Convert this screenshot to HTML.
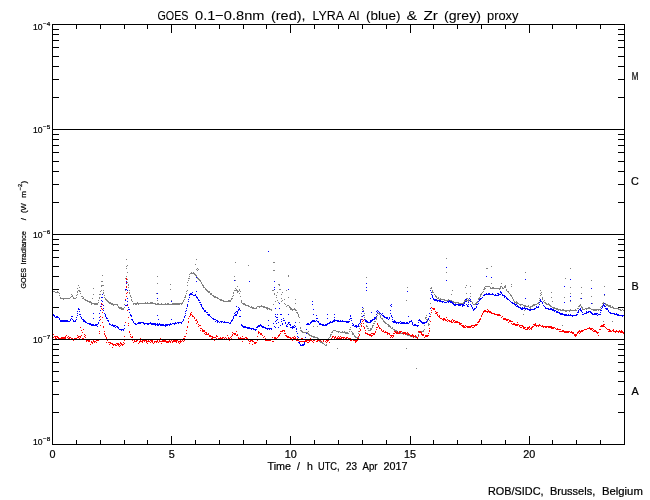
<!DOCTYPE html>
<html><head><meta charset="utf-8"><title>GOES / LYRA proxy</title>
<style>
html,body{margin:0;padding:0;background:#fff;}
body{width:650px;height:500px;overflow:hidden;}
svg{display:block;}
text{font-family:"Liberation Sans",sans-serif;fill:#000;stroke:#000;stroke-width:0.22px;}
.ti text{stroke-width:0.08px;}
</style></head><body>
<svg width="650" height="500" viewBox="0 0 650 500" style="will-change:transform">
<rect width="650" height="500" fill="#fff"/>
<g shape-rendering="crispEdges">
<path fill="#808080" d="M446 258h1v1h-1zM126 259h1v1h-1zM196 259h1v1h-1zM235 262h1v1h-1zM273 262h2v1h-2zM195 264h1v1h-1zM127 265h1v1h-1zM248 265h1v1h-1zM126 266h1v1h-1zM491 266h1v1h-1zM126 268h1v1h-1zM197 268h1v1h-1zM486 268h2v1h-2zM570 268h1v1h-1zM196 269h1v1h-1zM198 269h1v1h-1zM197 270h1v1h-1zM273 270h2v1h-2zM127 272h1v1h-1zM191 272h1v1h-1zM193 272h1v1h-1zM446 272h1v1h-1zM525 272h1v1h-1zM190 273h5v1h-5zM189 274h1v1h-1zM194 274h2v1h-2zM102 275h1v1h-1zM195 275h2v1h-2zM288 275h1v1h-1zM126 276h1v1h-1zM157 276h1v1h-1zM189 276h1v1h-1zM196 276h1v1h-1zM234 276h1v1h-1zM288 276h1v1h-1zM197 277h1v1h-1zM366 277h1v1h-1zM125 278h1v1h-1zM188 278h2v1h-2zM197 278h2v1h-2zM565 278h1v1h-1zM127 279h1v1h-1zM198 279h2v1h-2zM188 280h1v1h-1zM199 280h2v1h-2zM235 280h1v1h-1zM591 280h1v1h-1zM101 281h2v1h-2zM200 281h1v1h-1zM127 282h1v1h-1zM187 282h1v1h-1zM201 282h1v1h-1zM157 283h1v1h-1zM201 283h1v1h-1zM491 283h1v1h-1zM501 283h1v1h-1zM128 284h1v1h-1zM170 284h1v1h-1zM202 284h1v1h-1zM278 284h2v1h-2zM511 284h1v1h-1zM78 285h1v1h-1zM101 285h3v1h-3zM128 285h1v1h-1zM187 285h1v1h-1zM202 285h2v1h-2zM279 285h1v1h-1zM466 285h1v1h-1zM505 285h1v1h-1zM101 286h1v1h-1zM203 286h1v1h-1zM237 286h1v1h-1zM470 286h1v1h-1zM485 286h5v1h-5zM500 286h2v1h-2zM504 286h2v1h-2zM511 286h1v1h-1zM604 286h1v1h-1zM79 287h1v1h-1zM128 287h1v1h-1zM203 287h2v1h-2zM274 287h1v1h-1zM407 287h1v1h-1zM431 287h1v1h-1zM465 287h1v1h-1zM484 287h1v1h-1zM490 287h1v1h-1zM492 287h2v1h-2zM500 287h1v1h-1zM502 287h1v1h-1zM504 287h2v1h-2zM570 287h1v1h-1zM581 287h1v1h-1zM77 288h1v1h-1zM93 288h1v1h-1zM205 288h1v1h-1zM235 288h1v1h-1zM430 288h2v1h-2zM484 288h2v1h-2zM490 288h11v1h-11zM502 288h2v1h-2zM125 289h1v1h-1zM170 289h1v1h-1zM205 289h2v1h-2zM236 289h1v1h-1zM239 289h1v1h-1zM279 289h2v1h-2zM483 289h2v1h-2zM499 289h1v1h-1zM506 289h1v1h-1zM78 290h2v1h-2zM101 290h1v1h-1zM103 290h1v1h-1zM125 290h1v1h-1zM129 290h1v1h-1zM187 290h1v1h-1zM206 290h2v1h-2zM234 290h4v1h-4zM239 290h1v1h-1zM272 290h2v1h-2zM286 290h1v1h-1zM432 290h1v1h-1zM452 290h1v1h-1zM506 290h1v1h-1zM540 290h1v1h-1zM53 291h2v1h-2zM57 291h1v1h-1zM77 291h1v1h-1zM79 291h2v1h-2zM100 291h1v1h-1zM186 291h1v1h-1zM207 291h3v1h-3zM237 291h2v1h-2zM240 291h1v1h-1zM432 291h1v1h-1zM483 291h1v1h-1zM507 291h2v1h-2zM55 292h4v1h-4zM77 292h1v1h-1zM103 292h1v1h-1zM129 292h1v1h-1zM208 292h2v1h-2zM233 292h1v1h-1zM237 292h1v1h-1zM277 292h1v1h-1zM282 292h1v1h-1zM432 292h2v1h-2zM482 292h1v1h-1zM508 292h1v1h-1zM541 292h1v1h-1zM551 292h1v1h-1zM59 293h1v1h-1zM80 293h1v1h-1zM103 293h1v1h-1zM129 293h1v1h-1zM156 293h1v1h-1zM186 293h1v1h-1zM210 293h2v1h-2zM233 293h1v1h-1zM239 293h1v1h-1zM274 293h1v1h-1zM466 293h1v1h-1zM470 293h1v1h-1zM481 293h1v1h-1zM509 293h1v1h-1zM540 293h1v1h-1zM570 293h1v1h-1zM581 293h1v1h-1zM71 294h1v1h-1zM77 294h1v1h-1zM93 294h1v1h-1zM99 294h2v1h-2zM210 294h2v1h-2zM274 294h1v1h-1zM281 294h1v1h-1zM434 294h1v1h-1zM451 294h1v1h-1zM480 294h2v1h-2zM510 294h1v1h-1zM541 294h1v1h-1zM59 295h1v1h-1zM72 295h1v1h-1zM76 295h1v1h-1zM104 295h1v1h-1zM130 295h1v1h-1zM185 295h1v1h-1zM212 295h2v1h-2zM233 295h1v1h-1zM276 295h1v1h-1zM435 295h1v1h-1zM480 295h1v1h-1zM510 295h2v1h-2zM540 295h1v1h-1zM604 295h1v1h-1zM71 296h2v1h-2zM81 296h2v1h-2zM126 296h1v1h-1zM130 296h1v1h-1zM185 296h1v1h-1zM213 296h3v1h-3zM232 296h1v1h-1zM240 296h1v1h-1zM435 296h2v1h-2zM470 296h1v1h-1zM480 296h1v1h-1zM511 296h1v1h-1zM591 296h1v1h-1zM60 297h1v1h-1zM70 297h1v1h-1zM73 297h1v1h-1zM76 297h1v1h-1zM83 297h1v1h-1zM99 297h1v1h-1zM104 297h1v1h-1zM131 297h1v1h-1zM184 297h2v1h-2zM214 297h4v1h-4zM276 297h1v1h-1zM288 297h1v1h-1zM436 297h1v1h-1zM438 297h1v1h-1zM479 297h1v1h-1zM512 297h1v1h-1zM542 297h1v1h-1zM551 297h1v1h-1zM564 297h1v1h-1zM60 298h10v1h-10zM73 298h3v1h-3zM82 298h2v1h-2zM92 298h1v1h-1zM99 298h1v1h-1zM105 298h1v1h-1zM217 298h2v1h-2zM231 298h2v1h-2zM281 298h1v1h-1zM437 298h2v1h-2zM440 298h1v1h-1zM466 298h2v1h-2zM478 298h2v1h-2zM512 298h1v1h-1zM539 298h1v1h-1zM542 298h1v1h-1zM580 298h1v1h-1zM63 299h1v1h-1zM84 299h2v1h-2zM105 299h2v1h-2zM131 299h1v1h-1zM184 299h1v1h-1zM219 299h3v1h-3zM231 299h1v1h-1zM284 299h1v1h-1zM295 299h1v1h-1zM439 299h6v1h-6zM448 299h1v1h-1zM465 299h1v1h-1zM468 299h1v1h-1zM470 299h1v1h-1zM478 299h1v1h-1zM513 299h1v1h-1zM542 299h1v1h-1zM85 300h3v1h-3zM98 300h1v1h-1zM106 300h2v1h-2zM125 300h1v1h-1zM131 300h1v1h-1zM157 300h1v1h-1zM171 300h1v1h-1zM183 300h1v1h-1zM220 300h4v1h-4zM228 300h3v1h-3zM241 300h1v1h-1zM277 300h1v1h-1zM282 300h1v1h-1zM406 300h1v1h-1zM444 300h8v1h-8zM464 300h7v1h-7zM513 300h1v1h-1zM539 300h1v1h-1zM544 300h1v1h-1zM87 301h4v1h-4zM107 301h2v1h-2zM132 301h1v1h-1zM183 301h1v1h-1zM223 301h8v1h-8zM241 301h1v1h-1zM275 301h1v1h-1zM281 301h1v1h-1zM452 301h2v1h-2zM464 301h1v1h-1zM468 301h1v1h-1zM471 301h1v1h-1zM477 301h1v1h-1zM514 301h1v1h-1zM516 301h1v1h-1zM543 301h1v1h-1zM552 301h1v1h-1zM570 301h1v1h-1zM89 302h3v1h-3zM98 302h1v1h-1zM108 302h3v1h-3zM137 302h1v1h-1zM145 302h1v1h-1zM147 302h1v1h-1zM150 302h3v1h-3zM182 302h1v1h-1zM241 302h1v1h-1zM278 302h1v1h-1zM453 302h6v1h-6zM463 302h1v1h-1zM472 302h1v1h-1zM476 302h2v1h-2zM514 302h4v1h-4zM538 302h1v1h-1zM544 302h2v1h-2zM603 302h1v1h-1zM91 303h7v1h-7zM109 303h4v1h-4zM133 303h23v1h-23zM157 303h2v1h-2zM161 303h1v1h-1zM165 303h1v1h-1zM167 303h2v1h-2zM172 303h11v1h-11zM242 303h3v1h-3zM284 303h1v1h-1zM295 303h1v1h-1zM430 303h1v1h-1zM455 303h1v1h-1zM458 303h7v1h-7zM472 303h1v1h-1zM475 303h2v1h-2zM516 303h3v1h-3zM537 303h2v1h-2zM545 303h2v1h-2zM548 303h1v1h-1zM592 303h1v1h-1zM602 303h4v1h-4zM91 304h1v1h-1zM94 304h4v1h-4zM111 304h7v1h-7zM124 304h1v1h-1zM133 304h1v1h-1zM135 304h2v1h-2zM138 304h1v1h-1zM155 304h25v1h-25zM181 304h1v1h-1zM243 304h3v1h-3zM273 304h1v1h-1zM285 304h1v1h-1zM473 304h3v1h-3zM519 304h4v1h-4zM533 304h4v1h-4zM546 304h4v1h-4zM580 304h1v1h-1zM605 304h3v1h-3zM113 305h1v1h-1zM117 305h1v1h-1zM245 305h4v1h-4zM261 305h1v1h-1zM287 305h2v1h-2zM520 305h1v1h-1zM523 305h3v1h-3zM528 305h1v1h-1zM532 305h3v1h-3zM549 305h2v1h-2zM579 305h2v1h-2zM602 305h1v1h-1zM606 305h5v1h-5zM118 306h1v1h-1zM248 306h2v1h-2zM251 306h1v1h-1zM257 306h8v1h-8zM286 306h1v1h-1zM289 306h1v1h-1zM524 306h5v1h-5zM530 306h3v1h-3zM550 306h2v1h-2zM578 306h2v1h-2zM581 306h1v1h-1zM601 306h1v1h-1zM608 306h3v1h-3zM612 306h1v1h-1zM118 307h4v1h-4zM124 307h1v1h-1zM250 307h4v1h-4zM256 307h1v1h-1zM259 307h1v1h-1zM263 307h5v1h-5zM289 307h2v1h-2zM362 307h1v1h-1zM529 307h2v1h-2zM552 307h3v1h-3zM581 307h2v1h-2zM588 307h2v1h-2zM600 307h1v1h-1zM610 307h4v1h-4zM119 308h5v1h-5zM252 308h5v1h-5zM266 308h4v1h-4zM290 308h2v1h-2zM294 308h1v1h-1zM363 308h1v1h-1zM530 308h1v1h-1zM553 308h5v1h-5zM577 308h2v1h-2zM582 308h1v1h-1zM585 308h6v1h-6zM613 308h6v1h-6zM121 309h3v1h-3zM267 309h1v1h-1zM269 309h3v1h-3zM290 309h6v1h-6zM362 309h1v1h-1zM556 309h5v1h-5zM562 309h2v1h-2zM570 309h1v1h-1zM575 309h1v1h-1zM582 309h3v1h-3zM586 309h1v1h-1zM591 309h10v1h-10zM618 309h3v1h-3zM622 309h1v1h-1zM271 310h1v1h-1zM292 310h1v1h-1zM295 310h2v1h-2zM363 310h1v1h-1zM524 310h1v1h-1zM558 310h1v1h-1zM560 310h17v1h-17zM593 310h4v1h-4zM598 310h1v1h-1zM620 310h2v1h-2zM623 310h1v1h-1zM362 311h1v1h-1zM565 311h2v1h-2zM569 311h1v1h-1zM296 312h2v1h-2zM297 313h1v1h-1zM361 313h1v1h-1zM364 313h1v1h-1zM377 313h3v1h-3zM298 314h1v1h-1zM379 314h1v1h-1zM430 314h1v1h-1zM523 314h1v1h-1zM298 315h1v1h-1zM364 315h1v1h-1zM377 315h1v1h-1zM380 315h1v1h-1zM426 315h1v1h-1zM298 316h1v1h-1zM361 316h1v1h-1zM380 316h1v1h-1zM299 317h1v1h-1zM364 317h1v1h-1zM376 317h1v1h-1zM380 317h1v1h-1zM425 317h2v1h-2zM376 318h1v1h-1zM381 318h2v1h-2zM425 318h1v1h-1zM360 319h1v1h-1zM365 319h1v1h-1zM376 319h1v1h-1zM382 319h1v1h-1zM426 319h2v1h-2zM366 320h1v1h-1zM383 320h1v1h-1zM429 320h1v1h-1zM360 321h1v1h-1zM365 321h1v1h-1zM374 321h2v1h-2zM383 321h2v1h-2zM427 321h1v1h-1zM603 321h1v1h-1zM612 321h1v1h-1zM299 322h1v1h-1zM366 322h1v1h-1zM384 322h2v1h-2zM424 322h1v1h-1zM373 323h2v1h-2zM385 323h2v1h-2zM428 323h1v1h-1zM360 324h1v1h-1zM387 324h2v1h-2zM428 324h2v1h-2zM366 325h1v1h-1zM372 325h2v1h-2zM388 325h2v1h-2zM424 325h1v1h-1zM428 325h1v1h-1zM562 325h1v1h-1zM313 326h1v1h-1zM317 326h1v1h-1zM359 326h1v1h-1zM366 326h2v1h-2zM372 326h1v1h-1zM388 326h3v1h-3zM300 327h1v1h-1zM350 327h1v1h-1zM372 327h1v1h-1zM390 327h1v1h-1zM392 327h1v1h-1zM300 328h1v1h-1zM359 328h1v1h-1zM367 328h2v1h-2zM370 328h2v1h-2zM391 328h2v1h-2zM349 329h2v1h-2zM370 329h2v1h-2zM393 329h2v1h-2zM424 329h1v1h-1zM300 330h2v1h-2zM333 330h3v1h-3zM368 330h3v1h-3zM394 330h3v1h-3zM423 330h1v1h-1zM301 331h2v1h-2zM308 331h1v1h-1zM332 331h1v1h-1zM336 331h4v1h-4zM342 331h1v1h-1zM344 331h1v1h-1zM349 331h1v1h-1zM351 331h1v1h-1zM358 331h1v1h-1zM396 331h2v1h-2zM420 331h4v1h-4zM302 332h6v1h-6zM331 332h2v1h-2zM338 332h1v1h-1zM340 332h8v1h-8zM352 332h1v1h-1zM397 332h4v1h-4zM402 332h1v1h-1zM418 332h3v1h-3zM306 333h3v1h-3zM345 333h4v1h-4zM352 333h2v1h-2zM358 333h1v1h-1zM400 333h5v1h-5zM406 333h2v1h-2zM308 334h2v1h-2zM330 334h2v1h-2zM352 334h2v1h-2zM403 334h1v1h-1zM405 334h2v1h-2zM408 334h1v1h-1zM418 334h1v1h-1zM309 335h3v1h-3zM330 335h1v1h-1zM354 335h1v1h-1zM407 335h5v1h-5zM413 335h1v1h-1zM311 336h4v1h-4zM330 336h1v1h-1zM354 336h2v1h-2zM410 336h1v1h-1zM412 336h5v1h-5zM418 336h1v1h-1zM313 337h5v1h-5zM329 337h1v1h-1zM355 337h4v1h-4zM415 337h3v1h-3zM317 338h2v1h-2zM328 338h1v1h-1zM357 338h1v1h-1zM319 339h1v1h-1zM328 339h1v1h-1zM328 340h1v1h-1zM319 341h2v1h-2zM327 341h1v1h-1zM320 342h3v1h-3zM326 342h1v1h-1zM322 343h2v1h-2zM324 344h1v1h-1zM326 344h1v1h-1zM325 345h2v1h-2zM337 348h1v1h-1zM406 348h1v1h-1zM416 368h1v1h-1z"/>
<path fill="#0000ff" d="M268 251h1v1h-1zM446 267h1v1h-1zM486 276h1v1h-1zM196 277h1v1h-1zM491 277h1v1h-1zM525 279h1v1h-1zM570 279h1v1h-1zM234 280h1v1h-1zM446 280h1v1h-1zM126 281h1v1h-1zM196 281h1v1h-1zM249 281h1v1h-1zM274 281h1v1h-1zM52 282h1v1h-1zM126 283h1v1h-1zM366 283h1v1h-1zM126 286h1v1h-1zM564 286h1v1h-1zM274 287h1v1h-1zM366 287h1v1h-1zM591 288h1v1h-1zM125 289h2v1h-2zM274 289h1v1h-1zM288 289h1v1h-1zM127 290h1v1h-1zM366 290h1v1h-1zM430 290h1v1h-1zM196 291h1v1h-1zM407 291h1v1h-1zM500 291h1v1h-1zM192 292h1v1h-1zM431 292h1v1h-1zM500 292h2v1h-2zM157 293h1v1h-1zM190 293h2v1h-2zM486 293h1v1h-1zM488 293h2v1h-2zM492 293h1v1h-1zM497 293h2v1h-2zM501 293h1v1h-1zM102 294h1v1h-1zM189 294h4v1h-4zM195 294h1v1h-1zM431 294h1v1h-1zM484 294h10v1h-10zM495 294h1v1h-1zM498 294h3v1h-3zM502 294h1v1h-1zM604 294h1v1h-1zM189 295h1v1h-1zM193 295h3v1h-3zM432 295h1v1h-1zM483 295h2v1h-2zM494 295h5v1h-5zM502 295h3v1h-3zM196 296h1v1h-1zM432 296h1v1h-1zM504 296h2v1h-2zM570 296h1v1h-1zM101 297h2v1h-2zM189 297h1v1h-1zM196 297h2v1h-2zM432 297h1v1h-1zM482 297h1v1h-1zM504 297h1v1h-1zM506 297h1v1h-1zM52 298h1v1h-1zM127 298h1v1h-1zM157 298h1v1h-1zM197 298h1v1h-1zM430 298h1v1h-1zM433 298h1v1h-1zM469 298h1v1h-1zM480 298h2v1h-2zM506 298h2v1h-2zM525 298h1v1h-1zM581 298h1v1h-1zM188 299h1v1h-1zM198 299h1v1h-1zM433 299h4v1h-4zM465 299h2v1h-2zM470 299h1v1h-1zM479 299h2v1h-2zM507 299h2v1h-2zM540 299h1v1h-1zM101 300h1v1h-1zM125 300h1v1h-1zM198 300h2v1h-2zM434 300h7v1h-7zM449 300h1v1h-1zM469 300h1v1h-1zM479 300h1v1h-1zM509 300h1v1h-1zM540 300h1v1h-1zM570 300h1v1h-1zM102 301h1v1h-1zM127 301h1v1h-1zM171 301h1v1h-1zM188 301h1v1h-1zM312 301h1v1h-1zM437 301h1v1h-1zM439 301h5v1h-5zM447 301h5v1h-5zM465 301h2v1h-2zM470 301h1v1h-1zM478 301h1v1h-1zM510 301h1v1h-1zM540 301h2v1h-2zM199 302h2v1h-2zM442 302h1v1h-1zM444 302h3v1h-3zM448 302h1v1h-1zM450 302h3v1h-3zM464 302h1v1h-1zM468 302h1v1h-1zM511 302h2v1h-2zM539 302h1v1h-1zM542 302h1v1h-1zM564 302h1v1h-1zM279 303h1v1h-1zM452 303h2v1h-2zM464 303h1v1h-1zM478 303h1v1h-1zM512 303h3v1h-3zM542 303h1v1h-1zM591 303h1v1h-1zM604 303h1v1h-1zM101 304h1v1h-1zM127 304h1v1h-1zM187 304h1v1h-1zM200 304h2v1h-2zM312 304h1v1h-1zM391 304h1v1h-1zM453 304h11v1h-11zM466 304h1v1h-1zM468 304h1v1h-1zM470 304h1v1h-1zM476 304h2v1h-2zM514 304h3v1h-3zM539 304h1v1h-1zM603 304h1v1h-1zM103 305h1v1h-1zM125 305h2v1h-2zM187 305h1v1h-1zM201 305h1v1h-1zM390 305h1v1h-1zM454 305h2v1h-2zM458 305h3v1h-3zM462 305h3v1h-3zM467 305h1v1h-1zM471 305h1v1h-1zM515 305h1v1h-1zM517 305h1v1h-1zM543 305h1v1h-1zM603 305h2v1h-2zM100 306h1v1h-1zM187 306h1v1h-1zM201 306h1v1h-1zM236 306h1v1h-1zM391 306h1v1h-1zM462 306h1v1h-1zM467 306h2v1h-2zM471 306h1v1h-1zM476 306h1v1h-1zM516 306h3v1h-3zM536 306h1v1h-1zM538 306h1v1h-1zM544 306h1v1h-1zM602 306h1v1h-1zM604 306h2v1h-2zM128 307h1v1h-1zM202 307h1v1h-1zM238 307h1v1h-1zM362 307h1v1h-1zM472 307h1v1h-1zM476 307h1v1h-1zM518 307h3v1h-3zM522 307h1v1h-1zM524 307h1v1h-1zM536 307h3v1h-3zM545 307h1v1h-1zM602 307h1v1h-1zM78 308h1v1h-1zM103 308h1v1h-1zM186 308h1v1h-1zM202 308h2v1h-2zM239 308h1v1h-1zM275 308h1v1h-1zM279 308h1v1h-1zM430 308h1v1h-1zM472 308h1v1h-1zM474 308h2v1h-2zM520 308h8v1h-8zM534 308h2v1h-2zM545 308h4v1h-4zM550 308h2v1h-2zM580 308h1v1h-1zM601 308h1v1h-1zM605 308h3v1h-3zM78 309h2v1h-2zM128 309h2v1h-2zM203 309h1v1h-1zM238 309h2v1h-2zM313 309h1v1h-1zM473 309h2v1h-2zM521 309h2v1h-2zM525 309h1v1h-1zM527 309h8v1h-8zM548 309h6v1h-6zM579 309h2v1h-2zM606 309h2v1h-2zM100 310h1v1h-1zM103 310h1v1h-1zM186 310h1v1h-1zM204 310h2v1h-2zM238 310h1v1h-1zM240 310h1v1h-1zM377 310h1v1h-1zM390 310h1v1h-1zM473 310h1v1h-1zM529 310h2v1h-2zM552 310h4v1h-4zM578 310h1v1h-1zM580 310h2v1h-2zM600 310h2v1h-2zM608 310h1v1h-1zM77 311h1v1h-1zM79 311h1v1h-1zM185 311h1v1h-1zM204 311h2v1h-2zM236 311h2v1h-2zM362 311h2v1h-2zM376 311h1v1h-1zM378 311h1v1h-1zM554 311h1v1h-1zM556 311h2v1h-2zM578 311h1v1h-1zM581 311h1v1h-1zM586 311h1v1h-1zM588 311h3v1h-3zM608 311h1v1h-1zM129 312h1v1h-1zM206 312h2v1h-2zM235 312h1v1h-1zM237 312h1v1h-1zM371 312h1v1h-1zM377 312h1v1h-1zM379 312h1v1h-1zM556 312h4v1h-4zM577 312h2v1h-2zM582 312h1v1h-1zM586 312h3v1h-3zM590 312h2v1h-2zM600 312h1v1h-1zM609 312h2v1h-2zM77 313h1v1h-1zM93 313h1v1h-1zM99 313h1v1h-1zM104 313h1v1h-1zM185 313h1v1h-1zM234 313h1v1h-1zM237 313h1v1h-1zM380 313h1v1h-1zM382 313h1v1h-1zM390 313h1v1h-1zM429 313h1v1h-1zM559 313h4v1h-4zM584 313h3v1h-3zM591 313h2v1h-2zM594 313h4v1h-4zM610 313h5v1h-5zM616 313h1v1h-1zM53 314h1v1h-1zM79 314h2v1h-2zM105 314h1v1h-1zM130 314h1v1h-1zM207 314h3v1h-3zM235 314h2v1h-2zM275 314h1v1h-1zM277 314h1v1h-1zM280 314h2v1h-2zM288 314h1v1h-1zM313 314h1v1h-1zM327 314h1v1h-1zM334 314h1v1h-1zM376 314h1v1h-1zM381 314h1v1h-1zM560 314h7v1h-7zM568 314h1v1h-1zM570 314h1v1h-1zM576 314h2v1h-2zM582 314h2v1h-2zM592 314h5v1h-5zM598 314h3v1h-3zM614 314h5v1h-5zM53 315h2v1h-2zM77 315h1v1h-1zM105 315h1v1h-1zM130 315h2v1h-2zM157 315h1v1h-1zM185 315h1v1h-1zM208 315h2v1h-2zM234 315h3v1h-3zM316 315h1v1h-1zM350 315h1v1h-1zM363 315h1v1h-1zM382 315h2v1h-2zM391 315h1v1h-1zM564 315h13v1h-13zM597 315h1v1h-1zM617 315h7v1h-7zM54 316h1v1h-1zM56 316h2v1h-2zM71 316h2v1h-2zM80 316h1v1h-1zM105 316h1v1h-1zM131 316h1v1h-1zM184 316h1v1h-1zM210 316h1v1h-1zM233 316h1v1h-1zM239 316h2v1h-2zM275 316h1v1h-1zM350 316h1v1h-1zM362 316h1v1h-1zM376 316h1v1h-1zM383 316h2v1h-2zM391 316h1v1h-1zM408 316h1v1h-1zM429 316h1v1h-1zM572 316h1v1h-1zM622 316h1v1h-1zM55 317h4v1h-4zM76 317h1v1h-1zM81 317h1v1h-1zM99 317h1v1h-1zM106 317h1v1h-1zM184 317h1v1h-1zM211 317h1v1h-1zM233 317h1v1h-1zM276 317h2v1h-2zM334 317h1v1h-1zM374 317h2v1h-2zM384 317h4v1h-4zM389 317h1v1h-1zM392 317h1v1h-1zM59 318h1v1h-1zM71 318h1v1h-1zM81 318h1v1h-1zM93 318h1v1h-1zM106 318h2v1h-2zM212 318h2v1h-2zM233 318h1v1h-1zM283 318h1v1h-1zM316 318h2v1h-2zM327 318h1v1h-1zM350 318h2v1h-2zM374 318h2v1h-2zM386 318h2v1h-2zM389 318h1v1h-1zM428 318h1v1h-1zM59 319h1v1h-1zM70 319h1v1h-1zM72 319h1v1h-1zM76 319h1v1h-1zM82 319h2v1h-2zM131 319h2v1h-2zM158 319h1v1h-1zM171 319h1v1h-1zM183 319h1v1h-1zM213 319h3v1h-3zM232 319h1v1h-1zM277 319h1v1h-1zM281 319h1v1h-1zM334 319h1v1h-1zM349 319h1v1h-1zM361 319h1v1h-1zM364 319h1v1h-1zM372 319h3v1h-3zM388 319h1v1h-1zM392 319h1v1h-1zM419 319h1v1h-1zM428 319h1v1h-1zM60 320h8v1h-8zM70 320h1v1h-1zM73 320h1v1h-1zM75 320h1v1h-1zM83 320h2v1h-2zM99 320h1v1h-1zM107 320h2v1h-2zM132 320h1v1h-1zM183 320h1v1h-1zM216 320h2v1h-2zM231 320h2v1h-2zM268 320h1v1h-1zM276 320h1v1h-1zM283 320h2v1h-2zM312 320h3v1h-3zM316 320h1v1h-1zM333 320h6v1h-6zM340 320h1v1h-1zM342 320h1v1h-1zM351 320h1v1h-1zM360 320h1v1h-1zM365 320h2v1h-2zM370 320h3v1h-3zM394 320h1v1h-1zM411 320h1v1h-1zM418 320h3v1h-3zM427 320h1v1h-1zM60 321h10v1h-10zM73 321h3v1h-3zM83 321h3v1h-3zM108 321h1v1h-1zM133 321h1v1h-1zM182 321h1v1h-1zM215 321h1v1h-1zM217 321h2v1h-2zM220 321h3v1h-3zM224 321h1v1h-1zM231 321h1v1h-1zM275 321h1v1h-1zM281 321h1v1h-1zM311 321h5v1h-5zM317 321h2v1h-2zM330 321h1v1h-1zM332 321h3v1h-3zM337 321h13v1h-13zM360 321h1v1h-1zM365 321h3v1h-3zM370 321h2v1h-2zM392 321h4v1h-4zM400 321h1v1h-1zM409 321h3v1h-3zM420 321h2v1h-2zM426 321h1v1h-1zM85 322h2v1h-2zM98 322h1v1h-1zM125 322h1v1h-1zM133 322h1v1h-1zM138 322h6v1h-6zM150 322h1v1h-1zM175 322h1v1h-1zM177 322h5v1h-5zM217 322h1v1h-1zM219 322h1v1h-1zM221 322h1v1h-1zM223 322h6v1h-6zM230 322h1v1h-1zM278 322h1v1h-1zM285 322h1v1h-1zM288 322h2v1h-2zM295 322h1v1h-1zM310 322h2v1h-2zM318 322h1v1h-1zM329 322h4v1h-4zM346 322h3v1h-3zM360 322h1v1h-1zM367 322h4v1h-4zM393 322h7v1h-7zM401 322h4v1h-4zM406 322h2v1h-2zM409 322h1v1h-1zM412 322h1v1h-1zM418 322h1v1h-1zM421 322h6v1h-6zM87 323h4v1h-4zM98 323h1v1h-1zM109 323h1v1h-1zM134 323h2v1h-2zM137 323h4v1h-4zM143 323h13v1h-13zM157 323h1v1h-1zM159 323h1v1h-1zM170 323h1v1h-1zM172 323h5v1h-5zM178 323h1v1h-1zM181 323h1v1h-1zM229 323h2v1h-2zM273 323h1v1h-1zM276 323h1v1h-1zM282 323h1v1h-1zM285 323h1v1h-1zM288 323h1v1h-1zM307 323h2v1h-2zM310 323h1v1h-1zM319 323h2v1h-2zM327 323h3v1h-3zM352 323h1v1h-1zM359 323h1v1h-1zM396 323h1v1h-1zM398 323h1v1h-1zM400 323h9v1h-9zM412 323h1v1h-1zM422 323h3v1h-3zM89 324h5v1h-5zM95 324h3v1h-3zM109 324h2v1h-2zM112 324h1v1h-1zM135 324h2v1h-2zM144 324h1v1h-1zM147 324h2v1h-2zM151 324h13v1h-13zM165 324h7v1h-7zM174 324h1v1h-1zM241 324h1v1h-1zM260 324h1v1h-1zM282 324h1v1h-1zM287 324h1v1h-1zM289 324h2v1h-2zM306 324h4v1h-4zM319 324h5v1h-5zM325 324h3v1h-3zM353 324h1v1h-1zM358 324h1v1h-1zM412 324h1v1h-1zM414 324h2v1h-2zM91 325h6v1h-6zM111 325h5v1h-5zM124 325h1v1h-1zM155 325h1v1h-1zM157 325h2v1h-2zM160 325h8v1h-8zM169 325h1v1h-1zM241 325h2v1h-2zM258 325h4v1h-4zM268 325h1v1h-1zM280 325h1v1h-1zM286 325h1v1h-1zM290 325h1v1h-1zM294 325h1v1h-1zM322 325h5v1h-5zM352 325h2v1h-2zM355 325h2v1h-2zM358 325h1v1h-1zM413 325h6v1h-6zM97 326h1v1h-1zM113 326h2v1h-2zM116 326h2v1h-2zM165 326h1v1h-1zM242 326h4v1h-4zM257 326h3v1h-3zM261 326h3v1h-3zM274 326h1v1h-1zM286 326h2v1h-2zM292 326h2v1h-2zM295 326h1v1h-1zM354 326h5v1h-5zM417 326h1v1h-1zM115 327h1v1h-1zM117 327h2v1h-2zM243 327h7v1h-7zM256 327h2v1h-2zM262 327h4v1h-4zM275 327h1v1h-1zM278 327h1v1h-1zM290 327h5v1h-5zM356 327h1v1h-1zM118 328h1v1h-1zM124 328h1v1h-1zM247 328h7v1h-7zM265 328h7v1h-7zM292 328h1v1h-1zM296 328h1v1h-1zM119 329h5v1h-5zM251 329h1v1h-1zM253 329h4v1h-4zM267 329h1v1h-1zM269 329h1v1h-1zM271 329h1v1h-1zM296 329h1v1h-1zM306 329h1v1h-1zM121 330h1v1h-1zM123 330h1v1h-1zM255 330h1v1h-1zM296 331h1v1h-1zM297 333h1v1h-1zM306 333h1v1h-1zM297 336h1v1h-1zM298 337h1v1h-1zM305 337h1v1h-1zM298 340h1v1h-1zM305 340h1v1h-1zM298 342h2v1h-2zM304 342h1v1h-1zM299 343h1v1h-1zM304 343h1v1h-1zM300 344h1v1h-1zM302 344h3v1h-3zM300 345h4v1h-4z"/>
<path fill="#ff0000" d="M126 278h1v1h-1zM126 279h1v1h-1zM126 282h1v1h-1zM126 286h1v1h-1zM126 287h1v1h-1zM127 292h1v1h-1zM126 293h1v1h-1zM126 296h1v1h-1zM125 299h1v1h-1zM101 303h1v1h-1zM102 304h1v1h-1zM127 305h1v1h-1zM101 306h1v1h-1zM431 307h1v1h-1zM101 308h1v1h-1zM432 308h3v1h-3zM102 309h1v1h-1zM433 309h2v1h-2zM487 309h1v1h-1zM127 310h1v1h-1zM431 310h1v1h-1zM484 310h2v1h-2zM488 310h1v1h-1zM435 311h1v1h-1zM483 311h8v1h-8zM102 312h1v1h-1zM191 312h1v1h-1zM431 312h1v1h-1zM436 312h2v1h-2zM483 312h1v1h-1zM487 312h1v1h-1zM489 312h3v1h-3zM190 313h1v1h-1zM435 313h2v1h-2zM482 313h1v1h-1zM491 313h4v1h-4zM190 314h2v1h-2zM437 314h1v1h-1zM482 314h1v1h-1zM494 314h6v1h-6zM190 315h1v1h-1zM192 315h1v1h-1zM437 315h1v1h-1zM439 315h1v1h-1zM481 315h1v1h-1zM497 315h4v1h-4zM100 316h1v1h-1zM189 316h1v1h-1zM192 316h2v1h-2zM430 316h1v1h-1zM438 316h2v1h-2zM481 316h1v1h-1zM502 316h1v1h-1zM102 317h1v1h-1zM128 317h1v1h-1zM194 317h1v1h-1zM439 317h1v1h-1zM446 317h1v1h-1zM501 317h1v1h-1zM188 318h1v1h-1zM194 318h1v1h-1zM440 318h2v1h-2zM443 318h2v1h-2zM480 318h1v1h-1zM503 318h3v1h-3zM100 319h1v1h-1zM196 319h1v1h-1zM362 319h1v1h-1zM442 319h4v1h-4zM447 319h1v1h-1zM452 319h1v1h-1zM479 319h2v1h-2zM503 319h6v1h-6zM195 320h2v1h-2zM363 320h1v1h-1zM443 320h1v1h-1zM445 320h2v1h-2zM448 320h2v1h-2zM451 320h1v1h-1zM453 320h2v1h-2zM479 320h1v1h-1zM506 320h2v1h-2zM509 320h2v1h-2zM188 321h1v1h-1zM197 321h1v1h-1zM362 321h1v1h-1zM430 321h1v1h-1zM447 321h1v1h-1zM449 321h3v1h-3zM453 321h1v1h-1zM455 321h3v1h-3zM478 321h2v1h-2zM509 321h4v1h-4zM102 322h1v1h-1zM125 322h1v1h-1zM188 322h1v1h-1zM197 322h1v1h-1zM451 322h2v1h-2zM454 322h6v1h-6zM477 322h2v1h-2zM508 322h1v1h-1zM517 322h1v1h-1zM128 323h1v1h-1zM196 323h1v1h-1zM361 323h1v1h-1zM363 323h1v1h-1zM377 323h1v1h-1zM459 323h3v1h-3zM511 323h1v1h-1zM513 323h2v1h-2zM535 323h1v1h-1zM198 324h1v1h-1zM377 324h1v1h-1zM459 324h2v1h-2zM475 324h3v1h-3zM512 324h7v1h-7zM533 324h3v1h-3zM539 324h1v1h-1zM603 324h2v1h-2zM100 325h1v1h-1zM128 325h1v1h-1zM199 325h2v1h-2zM361 325h1v1h-1zM378 325h1v1h-1zM461 325h3v1h-3zM465 325h1v1h-1zM471 325h6v1h-6zM515 325h3v1h-3zM519 325h4v1h-4zM534 325h7v1h-7zM542 325h1v1h-1zM601 325h3v1h-3zM103 326h1v1h-1zM187 326h1v1h-1zM198 326h1v1h-1zM361 326h1v1h-1zM363 326h1v1h-1zM378 326h1v1h-1zM462 326h3v1h-3zM466 326h6v1h-6zM474 326h1v1h-1zM519 326h1v1h-1zM522 326h2v1h-2zM529 326h1v1h-1zM532 326h2v1h-2zM536 326h1v1h-1zM538 326h1v1h-1zM541 326h11v1h-11zM600 326h5v1h-5zM80 327h1v1h-1zM103 327h1v1h-1zM187 327h1v1h-1zM364 327h1v1h-1zM376 327h2v1h-2zM379 327h1v1h-1zM463 327h3v1h-3zM467 327h4v1h-4zM472 327h2v1h-2zM520 327h2v1h-2zM523 327h3v1h-3zM527 327h3v1h-3zM531 327h2v1h-2zM543 327h1v1h-1zM545 327h2v1h-2zM548 327h7v1h-7zM589 327h1v1h-1zM605 327h1v1h-1zM200 328h2v1h-2zM364 328h1v1h-1zM379 328h2v1h-2zM429 328h1v1h-1zM523 328h2v1h-2zM527 328h2v1h-2zM530 328h2v1h-2zM551 328h3v1h-3zM555 328h1v1h-1zM557 328h1v1h-1zM587 328h6v1h-6zM606 328h1v1h-1zM83 329h1v1h-1zM202 329h1v1h-1zM360 329h1v1h-1zM376 329h1v1h-1zM381 329h1v1h-1zM525 329h3v1h-3zM529 329h1v1h-1zM531 329h1v1h-1zM556 329h5v1h-5zM584 329h3v1h-3zM590 329h2v1h-2zM593 329h1v1h-1zM599 329h2v1h-2zM607 329h3v1h-3zM613 329h1v1h-1zM81 330h1v1h-1zM186 330h1v1h-1zM200 330h1v1h-1zM202 330h3v1h-3zM282 330h3v1h-3zM360 330h1v1h-1zM365 330h1v1h-1zM381 330h1v1h-1zM383 330h1v1h-1zM429 330h1v1h-1zM562 330h2v1h-2zM579 330h1v1h-1zM581 330h3v1h-3zM592 330h1v1h-1zM594 330h2v1h-2zM609 330h2v1h-2zM612 330h2v1h-2zM616 330h1v1h-1zM619 330h1v1h-1zM621 330h1v1h-1zM99 331h1v1h-1zM104 331h1v1h-1zM129 331h1v1h-1zM202 331h3v1h-3zM236 331h1v1h-1zM258 331h1v1h-1zM280 331h3v1h-3zM284 331h1v1h-1zM359 331h1v1h-1zM375 331h1v1h-1zM382 331h2v1h-2zM385 331h1v1h-1zM394 331h2v1h-2zM397 331h1v1h-1zM399 331h3v1h-3zM418 331h3v1h-3zM429 331h1v1h-1zM559 331h11v1h-11zM571 331h1v1h-1zM578 331h5v1h-5zM593 331h4v1h-4zM608 331h4v1h-4zM613 331h10v1h-10zM82 332h1v1h-1zM129 332h1v1h-1zM205 332h2v1h-2zM232 332h1v1h-1zM258 332h2v1h-2zM365 332h1v1h-1zM375 332h1v1h-1zM384 332h4v1h-4zM395 332h3v1h-3zM399 332h2v1h-2zM403 332h3v1h-3zM407 332h1v1h-1zM419 332h3v1h-3zM564 332h5v1h-5zM570 332h4v1h-4zM577 332h2v1h-2zM580 332h1v1h-1zM596 332h3v1h-3zM615 332h1v1h-1zM618 332h1v1h-1zM620 332h4v1h-4zM99 333h1v1h-1zM104 333h1v1h-1zM186 333h1v1h-1zM204 333h1v1h-1zM206 333h1v1h-1zM208 333h1v1h-1zM233 333h3v1h-3zM258 333h1v1h-1zM260 333h2v1h-2zM280 333h1v1h-1zM284 333h2v1h-2zM365 333h3v1h-3zM371 333h4v1h-4zM387 333h3v1h-3zM393 333h2v1h-2zM396 333h4v1h-4zM402 333h5v1h-5zM408 333h1v1h-1zM421 333h1v1h-1zM428 333h1v1h-1zM572 333h2v1h-2zM577 333h1v1h-1zM579 333h1v1h-1zM597 333h1v1h-1zM623 333h1v1h-1zM53 334h1v1h-1zM84 334h1v1h-1zM104 334h1v1h-1zM130 334h1v1h-1zM205 334h4v1h-4zM232 334h1v1h-1zM234 334h2v1h-2zM237 334h1v1h-1zM260 334h2v1h-2zM279 334h1v1h-1zM359 334h1v1h-1zM367 334h4v1h-4zM373 334h2v1h-2zM387 334h1v1h-1zM389 334h1v1h-1zM405 334h1v1h-1zM407 334h3v1h-3zM412 334h1v1h-1zM421 334h3v1h-3zM574 334h3v1h-3zM66 335h1v1h-1zM77 335h1v1h-1zM81 335h1v1h-1zM85 335h1v1h-1zM105 335h1v1h-1zM209 335h2v1h-2zM216 335h1v1h-1zM227 335h1v1h-1zM232 335h1v1h-1zM236 335h2v1h-2zM262 335h1v1h-1zM278 335h2v1h-2zM285 335h2v1h-2zM359 335h1v1h-1zM369 335h4v1h-4zM390 335h4v1h-4zM410 335h4v1h-4zM415 335h1v1h-1zM418 335h1v1h-1zM422 335h2v1h-2zM425 335h4v1h-4zM574 335h3v1h-3zM598 335h1v1h-1zM54 336h4v1h-4zM65 336h1v1h-1zM68 336h1v1h-1zM78 336h3v1h-3zM84 336h1v1h-1zM105 336h1v1h-1zM124 336h1v1h-1zM130 336h1v1h-1zM132 336h1v1h-1zM184 336h2v1h-2zM209 336h4v1h-4zM216 336h2v1h-2zM231 336h1v1h-1zM242 336h1v1h-1zM257 336h1v1h-1zM264 336h1v1h-1zM278 336h1v1h-1zM286 336h3v1h-3zM294 336h1v1h-1zM332 336h2v1h-2zM335 336h1v1h-1zM338 336h1v1h-1zM340 336h1v1h-1zM358 336h1v1h-1zM371 336h1v1h-1zM391 336h1v1h-1zM393 336h1v1h-1zM411 336h1v1h-1zM413 336h3v1h-3zM425 336h3v1h-3zM575 336h1v1h-1zM53 337h1v1h-1zM55 337h1v1h-1zM57 337h2v1h-2zM61 337h5v1h-5zM67 337h1v1h-1zM69 337h2v1h-2zM77 337h2v1h-2zM80 337h1v1h-1zM85 337h1v1h-1zM106 337h1v1h-1zM131 337h2v1h-2zM212 337h4v1h-4zM220 337h1v1h-1zM222 337h2v1h-2zM225 337h1v1h-1zM228 337h1v1h-1zM230 337h1v1h-1zM238 337h1v1h-1zM240 337h1v1h-1zM245 337h2v1h-2zM263 337h1v1h-1zM272 337h1v1h-1zM274 337h2v1h-2zM277 337h1v1h-1zM287 337h4v1h-4zM292 337h2v1h-2zM295 337h1v1h-1zM332 337h1v1h-1zM334 337h2v1h-2zM337 337h1v1h-1zM339 337h1v1h-1zM341 337h4v1h-4zM346 337h2v1h-2zM390 337h1v1h-1zM392 337h1v1h-1zM413 337h1v1h-1zM416 337h2v1h-2zM424 337h1v1h-1zM55 338h2v1h-2zM58 338h8v1h-8zM68 338h2v1h-2zM71 338h2v1h-2zM74 338h3v1h-3zM79 338h1v1h-1zM82 338h2v1h-2zM106 338h1v1h-1zM140 338h1v1h-1zM160 338h1v1h-1zM183 338h2v1h-2zM211 338h2v1h-2zM216 338h1v1h-1zM218 338h5v1h-5zM224 338h1v1h-1zM226 338h1v1h-1zM228 338h2v1h-2zM231 338h1v1h-1zM238 338h7v1h-7zM246 338h2v1h-2zM265 338h1v1h-1zM274 338h3v1h-3zM290 338h2v1h-2zM293 338h3v1h-3zM297 338h1v1h-1zM301 338h2v1h-2zM310 338h1v1h-1zM331 338h1v1h-1zM334 338h1v1h-1zM336 338h6v1h-6zM343 338h1v1h-1zM345 338h2v1h-2zM348 338h3v1h-3zM357 338h2v1h-2zM417 338h1v1h-1zM66 339h2v1h-2zM70 339h7v1h-7zM84 339h3v1h-3zM90 339h1v1h-1zM94 339h2v1h-2zM97 339h2v1h-2zM107 339h1v1h-1zM133 339h1v1h-1zM135 339h1v1h-1zM138 339h1v1h-1zM141 339h1v1h-1zM144 339h1v1h-1zM148 339h1v1h-1zM153 339h2v1h-2zM156 339h1v1h-1zM162 339h1v1h-1zM171 339h1v1h-1zM182 339h1v1h-1zM215 339h1v1h-1zM217 339h2v1h-2zM221 339h1v1h-1zM224 339h2v1h-2zM227 339h2v1h-2zM230 339h1v1h-1zM243 339h5v1h-5zM251 339h1v1h-1zM263 339h2v1h-2zM267 339h1v1h-1zM269 339h6v1h-6zM276 339h1v1h-1zM289 339h1v1h-1zM294 339h1v1h-1zM296 339h1v1h-1zM298 339h3v1h-3zM302 339h4v1h-4zM311 339h1v1h-1zM313 339h1v1h-1zM315 339h1v1h-1zM317 339h1v1h-1zM319 339h4v1h-4zM324 339h2v1h-2zM329 339h3v1h-3zM345 339h1v1h-1zM347 339h1v1h-1zM349 339h1v1h-1zM351 339h3v1h-3zM357 339h1v1h-1zM73 340h1v1h-1zM86 340h4v1h-4zM93 340h1v1h-1zM96 340h3v1h-3zM107 340h1v1h-1zM124 340h1v1h-1zM132 340h1v1h-1zM134 340h1v1h-1zM136 340h2v1h-2zM140 340h1v1h-1zM142 340h5v1h-5zM148 340h1v1h-1zM150 340h3v1h-3zM157 340h1v1h-1zM159 340h1v1h-1zM162 340h4v1h-4zM169 340h1v1h-1zM171 340h1v1h-1zM173 340h5v1h-5zM180 340h1v1h-1zM182 340h1v1h-1zM184 340h1v1h-1zM214 340h1v1h-1zM229 340h1v1h-1zM248 340h1v1h-1zM250 340h3v1h-3zM257 340h1v1h-1zM265 340h6v1h-6zM292 340h1v1h-1zM296 340h3v1h-3zM305 340h7v1h-7zM313 340h2v1h-2zM317 340h4v1h-4zM323 340h1v1h-1zM326 340h3v1h-3zM350 340h2v1h-2zM353 340h5v1h-5zM86 341h1v1h-1zM88 341h2v1h-2zM91 341h1v1h-1zM93 341h3v1h-3zM134 341h3v1h-3zM139 341h4v1h-4zM144 341h1v1h-1zM146 341h4v1h-4zM151 341h2v1h-2zM154 341h4v1h-4zM159 341h12v1h-12zM172 341h5v1h-5zM178 341h4v1h-4zM183 341h1v1h-1zM242 341h1v1h-1zM249 341h2v1h-2zM252 341h2v1h-2zM272 341h2v1h-2zM299 341h8v1h-8zM309 341h1v1h-1zM312 341h1v1h-1zM316 341h2v1h-2zM321 341h1v1h-1zM323 341h1v1h-1zM325 341h1v1h-1zM327 341h1v1h-1zM355 341h2v1h-2zM91 342h2v1h-2zM94 342h1v1h-1zM96 342h1v1h-1zM106 342h1v1h-1zM108 342h3v1h-3zM120 342h1v1h-1zM123 342h1v1h-1zM133 342h1v1h-1zM139 342h1v1h-1zM142 342h1v1h-1zM146 342h1v1h-1zM150 342h1v1h-1zM152 342h1v1h-1zM154 342h1v1h-1zM156 342h1v1h-1zM158 342h1v1h-1zM166 342h3v1h-3zM170 342h1v1h-1zM172 342h1v1h-1zM176 342h1v1h-1zM178 342h1v1h-1zM180 342h1v1h-1zM254 342h3v1h-3zM307 342h2v1h-2zM313 342h1v1h-1zM326 342h1v1h-1zM329 342h1v1h-1zM355 342h1v1h-1zM92 343h1v1h-1zM110 343h3v1h-3zM116 343h3v1h-3zM120 343h2v1h-2zM124 343h1v1h-1zM138 343h1v1h-1zM147 343h1v1h-1zM153 343h1v1h-1zM161 343h1v1h-1zM179 343h1v1h-1zM249 343h1v1h-1zM254 343h2v1h-2zM90 344h1v1h-1zM109 344h1v1h-1zM112 344h4v1h-4zM117 344h3v1h-3zM121 344h3v1h-3zM252 344h1v1h-1zM113 345h1v1h-1zM115 345h2v1h-2zM118 345h1v1h-1zM120 345h1v1h-1zM122 345h1v1h-1zM119 346h1v1h-1zM112 347h1v1h-1z"/>
</g>
<g shape-rendering="crispEdges" fill="#000">
<rect x="52" y="24" width="573" height="1"/><rect x="52" y="444" width="573" height="1"/><rect x="52" y="24" width="1" height="421"/><rect x="624" y="24" width="1" height="421"/><rect x="52" y="129" width="573" height="1"/><rect x="52" y="234" width="573" height="1"/><rect x="52" y="339" width="573" height="1"/>
<rect x="52" y="24" width="1" height="9"/><rect x="52" y="436" width="1" height="9"/><rect x="76" y="24" width="1" height="5"/><rect x="76" y="440" width="1" height="5"/><rect x="100" y="24" width="1" height="5"/><rect x="100" y="440" width="1" height="5"/><rect x="124" y="24" width="1" height="5"/><rect x="124" y="440" width="1" height="5"/><rect x="147" y="24" width="1" height="5"/><rect x="147" y="440" width="1" height="5"/><rect x="171" y="24" width="1" height="9"/><rect x="171" y="436" width="1" height="9"/><rect x="195" y="24" width="1" height="5"/><rect x="195" y="440" width="1" height="5"/><rect x="219" y="24" width="1" height="5"/><rect x="219" y="440" width="1" height="5"/><rect x="243" y="24" width="1" height="5"/><rect x="243" y="440" width="1" height="5"/><rect x="266" y="24" width="1" height="5"/><rect x="266" y="440" width="1" height="5"/><rect x="290" y="24" width="1" height="9"/><rect x="290" y="436" width="1" height="9"/><rect x="314" y="24" width="1" height="5"/><rect x="314" y="440" width="1" height="5"/><rect x="338" y="24" width="1" height="5"/><rect x="338" y="440" width="1" height="5"/><rect x="362" y="24" width="1" height="5"/><rect x="362" y="440" width="1" height="5"/><rect x="386" y="24" width="1" height="5"/><rect x="386" y="440" width="1" height="5"/><rect x="410" y="24" width="1" height="9"/><rect x="410" y="436" width="1" height="9"/><rect x="433" y="24" width="1" height="5"/><rect x="433" y="440" width="1" height="5"/><rect x="457" y="24" width="1" height="5"/><rect x="457" y="440" width="1" height="5"/><rect x="481" y="24" width="1" height="5"/><rect x="481" y="440" width="1" height="5"/><rect x="505" y="24" width="1" height="5"/><rect x="505" y="440" width="1" height="5"/><rect x="529" y="24" width="1" height="9"/><rect x="529" y="436" width="1" height="9"/><rect x="552" y="24" width="1" height="5"/><rect x="552" y="440" width="1" height="5"/><rect x="576" y="24" width="1" height="5"/><rect x="576" y="440" width="1" height="5"/><rect x="600" y="24" width="1" height="5"/><rect x="600" y="440" width="1" height="5"/><rect x="624" y="24" width="1" height="5"/><rect x="624" y="440" width="1" height="5"/>
<rect x="52" y="97" width="7" height="1"/><rect x="618" y="97" width="7" height="1"/><rect x="52" y="79" width="7" height="1"/><rect x="618" y="79" width="7" height="1"/><rect x="52" y="66" width="7" height="1"/><rect x="618" y="66" width="7" height="1"/><rect x="52" y="56" width="7" height="1"/><rect x="618" y="56" width="7" height="1"/><rect x="52" y="47" width="7" height="1"/><rect x="618" y="47" width="7" height="1"/><rect x="52" y="40" width="7" height="1"/><rect x="618" y="40" width="7" height="1"/><rect x="52" y="34" width="7" height="1"/><rect x="618" y="34" width="7" height="1"/><rect x="52" y="29" width="7" height="1"/><rect x="618" y="29" width="7" height="1"/><rect x="52" y="202" width="7" height="1"/><rect x="618" y="202" width="7" height="1"/><rect x="52" y="184" width="7" height="1"/><rect x="618" y="184" width="7" height="1"/><rect x="52" y="171" width="7" height="1"/><rect x="618" y="171" width="7" height="1"/><rect x="52" y="161" width="7" height="1"/><rect x="618" y="161" width="7" height="1"/><rect x="52" y="152" width="7" height="1"/><rect x="618" y="152" width="7" height="1"/><rect x="52" y="145" width="7" height="1"/><rect x="618" y="145" width="7" height="1"/><rect x="52" y="139" width="7" height="1"/><rect x="618" y="139" width="7" height="1"/><rect x="52" y="134" width="7" height="1"/><rect x="618" y="134" width="7" height="1"/><rect x="52" y="307" width="7" height="1"/><rect x="618" y="307" width="7" height="1"/><rect x="52" y="289" width="7" height="1"/><rect x="618" y="289" width="7" height="1"/><rect x="52" y="276" width="7" height="1"/><rect x="618" y="276" width="7" height="1"/><rect x="52" y="266" width="7" height="1"/><rect x="618" y="266" width="7" height="1"/><rect x="52" y="257" width="7" height="1"/><rect x="618" y="257" width="7" height="1"/><rect x="52" y="250" width="7" height="1"/><rect x="618" y="250" width="7" height="1"/><rect x="52" y="244" width="7" height="1"/><rect x="618" y="244" width="7" height="1"/><rect x="52" y="239" width="7" height="1"/><rect x="618" y="239" width="7" height="1"/><rect x="52" y="412" width="7" height="1"/><rect x="618" y="412" width="7" height="1"/><rect x="52" y="394" width="7" height="1"/><rect x="618" y="394" width="7" height="1"/><rect x="52" y="381" width="7" height="1"/><rect x="618" y="381" width="7" height="1"/><rect x="52" y="371" width="7" height="1"/><rect x="618" y="371" width="7" height="1"/><rect x="52" y="362" width="7" height="1"/><rect x="618" y="362" width="7" height="1"/><rect x="52" y="355" width="7" height="1"/><rect x="618" y="355" width="7" height="1"/><rect x="52" y="349" width="7" height="1"/><rect x="618" y="349" width="7" height="1"/><rect x="52" y="344" width="7" height="1"/><rect x="618" y="344" width="7" height="1"/>
</g>
<g>
<g class="ti">
<text x="157.5" y="20.0" font-size="13.6px" textLength="31.0" lengthAdjust="spacingAndGlyphs">GOES</text>
<text x="195.0" y="20.0" font-size="13.6px" textLength="69.5" lengthAdjust="spacingAndGlyphs">0.1−0.8nm</text>
<text x="271.0" y="20.0" font-size="13.6px" textLength="34.5" lengthAdjust="spacingAndGlyphs">(red),</text>
<text x="312.5" y="20.0" font-size="13.6px" textLength="31.5" lengthAdjust="spacingAndGlyphs">LYRA</text>
<text x="348.0" y="20.0" font-size="13.6px" textLength="11.5" lengthAdjust="spacingAndGlyphs">Al</text>
<text x="366.0" y="20.0" font-size="13.6px" textLength="34.5" lengthAdjust="spacingAndGlyphs">(blue)</text>
<text x="406.5" y="20.0" font-size="13.6px" textLength="10.5" lengthAdjust="spacingAndGlyphs">&amp;</text>
<text x="423.5" y="20.0" font-size="13.6px" textLength="14.5" lengthAdjust="spacingAndGlyphs">Zr</text>
<text x="444.0" y="20.0" font-size="13.6px" textLength="37.0" lengthAdjust="spacingAndGlyphs">(grey)</text>
<text x="487.0" y="20.0" font-size="13.6px" textLength="31.5" lengthAdjust="spacingAndGlyphs">proxy</text>
</g>
<text x="52.5" y="458.2" font-size="10.8px" text-anchor="middle">0</text>
<text x="171.7" y="458.2" font-size="10.8px" text-anchor="middle">5</text>
<text x="290.8" y="458.2" font-size="10.8px" text-anchor="middle">10</text>
<text x="410.0" y="458.2" font-size="10.8px" text-anchor="middle">15</text>
<text x="529.2" y="458.2" font-size="10.8px" text-anchor="middle">20</text>
<text x="267.5" y="470.4" font-size="10.5px" textLength="23.5" lengthAdjust="spacingAndGlyphs">Time</text>
<text x="298.5" y="470.4" font-size="10.5px" text-anchor="middle">/</text>
<text x="309.8" y="470.4" font-size="10.5px" text-anchor="middle">h</text>
<text x="318.0" y="470.4" font-size="10.5px" textLength="21.5" lengthAdjust="spacingAndGlyphs">UTC,</text>
<text x="346.0" y="470.4" font-size="10.5px" textLength="11.0" lengthAdjust="spacingAndGlyphs">23</text>
<text x="362.5" y="470.4" font-size="10.5px" textLength="15.0" lengthAdjust="spacingAndGlyphs">Apr</text>
<text x="383.5" y="470.4" font-size="10.5px" textLength="24.0" lengthAdjust="spacingAndGlyphs">2017</text>
<text x="488.0" y="495.0" font-size="10.8px" textLength="55.5" lengthAdjust="spacingAndGlyphs">ROB/SIDC,</text>
<text x="550.0" y="495.0" font-size="10.8px" textLength="45.2" lengthAdjust="spacingAndGlyphs">Brussels,</text>
<text x="602.0" y="495.0" font-size="10.8px" textLength="40.8" lengthAdjust="spacingAndGlyphs">Belgium</text>
<text x="635" y="80" font-size="10.8px" text-anchor="middle" textLength="6.6" lengthAdjust="spacingAndGlyphs">M</text>
<text x="635" y="185" font-size="10.8px" text-anchor="middle">C</text>
<text x="635" y="290" font-size="10.8px" text-anchor="middle">B</text>
<text x="635" y="395" font-size="10.8px" text-anchor="middle">A</text>
<text x="42.6" y="30.3" font-size="8.6px" text-anchor="end">10</text><text x="43" y="26.3" font-size="6.2px" textLength="7.2" lengthAdjust="spacingAndGlyphs">−4</text>
<text x="42.6" y="133.3" font-size="8.6px" text-anchor="end">10</text><text x="43" y="129.3" font-size="6.2px" textLength="7.2" lengthAdjust="spacingAndGlyphs">−5</text>
<text x="42.6" y="238.3" font-size="8.6px" text-anchor="end">10</text><text x="43" y="234.3" font-size="6.2px" textLength="7.2" lengthAdjust="spacingAndGlyphs">−6</text>
<text x="42.6" y="343.3" font-size="8.6px" text-anchor="end">10</text><text x="43" y="339.3" font-size="6.2px" textLength="7.2" lengthAdjust="spacingAndGlyphs">−7</text>
<text x="42.6" y="445.3" font-size="8.6px" text-anchor="end">10</text><text x="43" y="441.3" font-size="6.2px" textLength="7.2" lengthAdjust="spacingAndGlyphs">−8</text>
<text transform="translate(26.0,288.5) rotate(-90)" font-size="8px" textLength="20.5" lengthAdjust="spacingAndGlyphs">GOES</text>
<text transform="translate(26.0,264.5) rotate(-90)" font-size="8px" textLength="33.5" lengthAdjust="spacingAndGlyphs">Irradiance</text>
<text transform="translate(26.0,219.2) rotate(-90)" font-size="8px" text-anchor="middle">/</text>
<text transform="translate(26.0,213.0) rotate(-90)" font-size="8px" textLength="10.0" lengthAdjust="spacingAndGlyphs">(W</text>
<text transform="translate(26.0,194.4) rotate(-90)" font-size="8px" text-anchor="middle">m</text>
<text transform="translate(22.0,190.4) rotate(-90)" font-size="5.5px" textLength="6.6" lengthAdjust="spacingAndGlyphs">−2</text>
<text transform="translate(26.0,182.1) rotate(-90)" font-size="8px" text-anchor="middle">)</text>
</g>
</svg>
</body></html>
